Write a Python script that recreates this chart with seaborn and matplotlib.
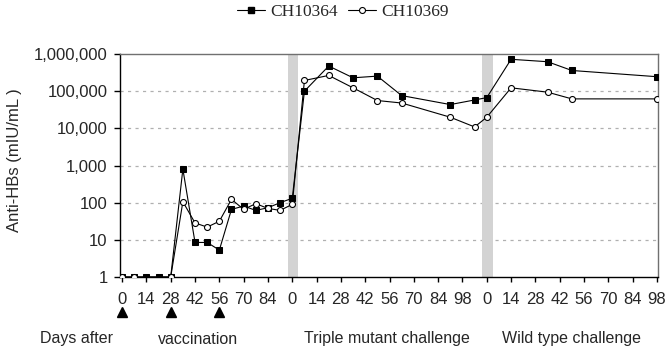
import matplotlib
matplotlib.use("Agg")
import matplotlib.pyplot as plt
import matplotlib.transforms as mtransforms
from matplotlib.lines import Line2D
from matplotlib.ticker import FixedLocator, FuncFormatter, NullLocator
import numpy as np
import pandas as pd
import seaborn as sns

# ---------------- data ----------------
series_names = ["CH10364", "CH10369"]

vacc_days = [0, 7, 14, 21, 28, 35, 42, 49, 56, 63, 70, 77, 84, 91]
triple_days = [0, 7, 21, 35, 49, 63, 91, 105]
wild_days = [0, 14, 35, 49, 98]

ch10364_vacc = [1, 1, 1, 1, 1, 800, 8.5, 8.5, 5.3, 66, 81, 62, 73, 100]
ch10364_triple = [131, 100000, 475000, 229000, 254000, 76000, 43600, 58000]
ch10364_wild = [67000, 720000, 620000, 360000, 245000]

ch10369_vacc = [1, 1, None, None, 1, 106, 28.5, 22, 31.6, 123, 66, 94, 70, 62]
ch10369_triple = [90, 194000, 265000, 123000, 56000, 48000, 19900, 10900]
ch10369_wild = [19900, 123000, 94000, 62000, 62000]

vaccination_days = [0, 28, 56]          # injections (triangles)
vacc_tick_labels = [0, 14, 28, 42, 56, 70, 84]
challenge_tick_labels = [0, 14, 28, 42, 56, 70, 84, 98]
phase_titles = ["Days after", "vaccination", "Triple mutant challenge", "Wild type challenge"]
y_ticks = [1, 10, 100, 1000, 10000, 100000, 1000000]

# phase start on the continuous day axis
TRIPLE_START = 98
WILD_START = 210

rows = []
for name, parts in (("CH10364", (ch10364_vacc, ch10364_triple, ch10364_wild)),
                    ("CH10369", (ch10369_vacc, ch10369_triple, ch10369_wild))):
    for off, days, vals in zip((0, TRIPLE_START, WILD_START),
                               (vacc_days, triple_days, wild_days), parts):
        for d, v in zip(days, vals):
            if v is not None:
                rows.append((name, off + d, v))
df = pd.DataFrame(rows, columns=["series", "pos", "value"])

# ---------------- figure ----------------
sns.set_style("white")
plt.rcParams["font.family"] = ["Liberation Sans", "DejaVu Sans"]

W, H = 667, 354
fig = plt.figure(figsize=(W / 100, H / 100), dpi=100)
ax = fig.add_axes([120 / W, 1 - 277 / H, 538 / W, 223 / H])

# challenge bands
for s in (TRIPLE_START, WILD_START):
    ax.axvspan(s - 2.5, s + 3.5, color="#d3d3d3", lw=0, zorder=0.5)

# dashed gridlines
for yv in y_ticks[1:-1]:
    ax.axhline(yv, color="#b0b0b0", lw=0.9, ls=(0, (2.5, 3.5)), zorder=0.4)

sns.lineplot(data=df[df.series == "CH10364"], x="pos", y="value", ax=ax,
             color="black", lw=0.8, marker="s", markersize=4.2,
             markerfacecolor="black", markeredgecolor="black",
             errorbar=None, legend=False, zorder=3)
sns.lineplot(data=df[df.series == "CH10369"], x="pos", y="value", ax=ax,
             color="black", lw=0.8, marker="o", markersize=4.3,
             markerfacecolor="white", markeredgecolor="black", markeredgewidth=0.8,
             errorbar=None, legend=False, zorder=4)

ax.set_yscale("log")
ax.set_ylim(1, 1e6)
ax.yaxis.set_major_locator(FixedLocator(y_ticks))
ax.yaxis.set_minor_locator(NullLocator())
ax.yaxis.set_major_formatter(FuncFormatter(lambda v, p: f"{int(round(v)):,}"))

tick_pos = ([d for d in vacc_tick_labels]
            + [TRIPLE_START + d for d in challenge_tick_labels]
            + [WILD_START + d for d in challenge_tick_labels])
tick_lab = [str(d) for d in vacc_tick_labels] + [str(d) for d in challenge_tick_labels] * 2
ax.set_xlim(-1.2, 308.6)
ax.set_xticks(tick_pos)
ax.set_xticklabels(tick_lab, family=["Liberation Sans Narrow", "Liberation Sans"], fontsize=12)
ax.set_xlabel("")
ax.set_ylabel("")

ax.tick_params(axis="y", which="major", direction="out", length=4, width=1,
               color="black", labelsize=12, pad=5, left=True)
ax.tick_params(axis="x", which="major", direction="out", length=3.5, width=1,
               color="black", pad=7, bottom=True)

for side in ("left", "bottom"):
    ax.spines[side].set_color("black")
    ax.spines[side].set_linewidth(1.0)
for side in ("top", "right"):
    ax.spines[side].set_color("#707070")
    ax.spines[side].set_linewidth(1.0)

# vaccination triangles
trans = mtransforms.blended_transform_factory(ax.transData, ax.transAxes)
ax.plot(vaccination_days, [-0.157] * len(vaccination_days), transform=trans,
        ls="none", marker="^", markersize=7, color="black", clip_on=False)

# y label
fig.text(15 / W, 1 - 160 / H, "Anti-HBs (mIU/mL )", rotation=90,
         ha="center", va="center", fontsize=12)

# bottom phase titles
for x_px, t in zip((40, 158, 304, 502), phase_titles):
    fig.text(x_px / W, 1 - 339 / H, t, ha="left", va="center", fontsize=11.5)

# legend
handles = [
    Line2D([], [], color="black", lw=0.8, marker="s", markersize=4.2,
           markerfacecolor="black", markeredgecolor="black"),
    Line2D([], [], color="black", lw=0.8, marker="o", markersize=4.3,
           markerfacecolor="white", markeredgecolor="black", markeredgewidth=0.8),
]
fig.legend(handles, series_names, loc="center", bbox_to_anchor=(343 / W, 1 - 12 / H),
           ncol=2, frameon=False, handlelength=1.6, handletextpad=0.3,
           columnspacing=0.6, prop={"family": ["Liberation Serif", "DejaVu Serif"], "size": 12.5})

fig.savefig("out.png", dpi=100)
